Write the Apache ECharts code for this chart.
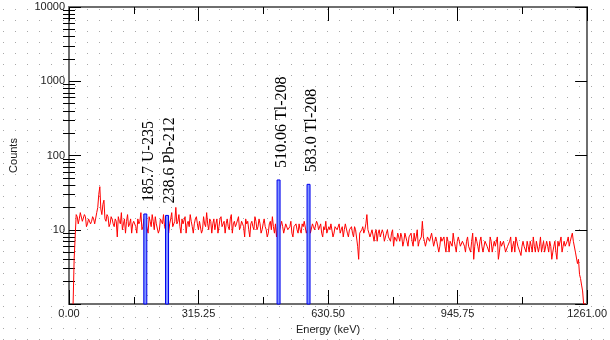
<!DOCTYPE html>
<html>
<head>
<meta charset="utf-8">
<script src="https://cdn.jsdelivr.net/npm/echarts@6/dist/echarts.min.js"></script>
<style>
html,body{margin:0;padding:0;background:#fff;}
body{background-image:url("data:image/svg+xml;utf8,<svg xmlns='http://www.w3.org/2000/svg' width='12' height='11'><rect x='3' y='9' width='1' height='1' fill='%23a8a8a8'/></svg>");}
#chart{width:610px;height:340px;}
</style>
</head>
<body>
<div id="chart"></div>
<script>
// Spectrum channels: first channel energy and channel width (keV)
const energyStart = 10;
const channelWidth = 2.5;
// Counts per channel
const counts = [
  1, 4, 4, 16, 15, 12, 14, 17, 17, 13, 13, 16, 15, 11, 12, 14, 14, 12, 13, 15,
  14, 12, 12, 17, 20, 30, 38, 19, 16, 22, 25, 14, 13, 16, 15, 11, 12, 15, 14, 12,
  11, 14, 13, 8, 15, 13, 12, 17, 10, 12, 14, 9, 13, 16, 11, 12, 14, 9, 12, 13,
  13, 11, 9, 14, 12, 13, 17, 10, 11, 14, 13, 12, 12, 9, 15, 13, 11, 16, 13, 10,
  15, 12, 12, 9, 10, 14, 13, 12, 16, 11, 10, 13, 14, 9, 12, 14, 17, 11, 12, 13,
  20, 12, 13, 16, 11, 9, 14, 12, 12, 15, 9, 12, 13, 11, 16, 13, 11, 9, 12, 14,
  15, 12, 10, 13, 13, 9, 10, 15, 12, 11, 17, 12, 10, 14, 13, 9, 12, 14, 10, 12,
  14, 9, 11, 14, 15, 11, 12, 13, 9, 12, 14, 11, 10, 14, 16, 9, 12, 13, 11, 12,
  12, 15, 10, 11, 13, 12, 11, 8, 14, 12, 13, 10, 8, 12, 13, 11, 10, 15, 13, 10,
  11, 14, 12, 9, 10, 12, 14, 11, 10, 8, 9, 12, 13, 10, 15, 11, 9, 12, 8, 11,
  12, 10, 10, 13, 11, 9, 9, 12, 12, 10, 10, 11, 13, 9, 8, 11, 11, 12, 10, 9,
  12, 10, 9, 12, 11, 13, 13, 9, 10, 11, 12, 9, 9, 12, 11, 10, 10, 13, 12, 10,
  10, 12, 9, 8, 11, 10, 13, 9, 9, 11, 10, 12, 12, 8, 9, 11, 11, 10, 10, 12,
  9, 10, 11, 8, 10, 12, 12, 9, 8, 10, 10, 11, 9, 8, 11, 10, 10, 6, 4, 9,
  9, 10, 11, 9, 10, 12, 16, 10, 9, 8, 8, 10, 10, 7, 9, 10, 7, 9, 10, 8,
  8, 10, 9, 7, 7, 9, 10, 8, 8, 7, 9, 10, 6, 8, 8, 7, 9, 8, 7, 9,
  8, 6, 7, 9, 9, 7, 6, 8, 8, 9, 7, 6, 9, 7, 8, 10, 6, 7, 7, 8,
  13, 8, 7, 6, 6, 8, 8, 7, 7, 9, 9, 6, 6, 8, 7, 7, 5, 6, 8, 7,
  7, 8, 6, 5, 8, 7, 5, 7, 7, 6, 9, 7, 6, 5, 7, 8, 8, 6, 6, 7,
  7, 6, 5, 7, 8, 6, 6, 5, 7, 9, 4, 6, 8, 7, 6, 5, 7, 8, 6, 5,
  5, 7, 7, 6, 6, 5, 8, 7, 5, 6, 7, 6, 6, 8, 4, 5, 7, 6, 6, 7,
  7, 5, 5, 6, 6, 7, 8, 5, 6, 7, 5, 8, 7, 6, 6, 5, 4.5, 6, 7, 6,
  6, 5, 7, 6, 5, 7, 6, 5, 8, 6, 5, 7, 7, 5, 6, 8, 5, 6, 7, 5,
  5, 7, 6, 5, 7, 6, 4, 5, 6, 7, 5, 4, 7, 6, 6, 8, 5, 6, 7, 6,
  6, 7, 8, 6, 7, 8, 9, 7, 7, 5, 5, 3.5, 4, 2.5, 2.2, 1.8, 1.5, 1, 1, 1
];
// Identified peaks
const peakEnergies = [185.7, 238.6, 510.06, 583.0];
const peakCounts = [16.3, 15.6, 46.8, 40.9];
const peakLabels = ['185.7 U-235', '238.6 Pb-212', '510.06 Tl-208', '583.0 Tl-208'];
// Axis ticks
const xMin = 0, xMax = 1261, xStep = 315.25;
const yMin = 1, yMax = 10000;
const yMinorTicks = [2,3,4,5,6,7,8,9,20,30,40,50,60,70,80,90,200,300,400,500,600,700,800,900,2000,3000,4000,5000,6000,7000,8000,9000];

const spectrum = counts.map((c, i) => [energyStart + i * channelWidth, c]);
const peaks = peakEnergies.map((e, i) => [e, peakCounts[i], i]);

const chart = echarts.init(document.getElementById('chart'), null, {renderer: 'canvas'});
const axisLineStyle = {color: '#6e6e6e', width: 2};
const tickStyle = {color: '#000', width: 1};
const labelFont = {fontFamily: '"Liberation Sans", Arial, sans-serif', fontSize: 11, color: '#222'};

function xAx(pos, showLabels) {
  return {
    type: 'value', position: pos, min: xMin, max: xMax, interval: xStep,
    axisLine: {show: true, onZero: false, lineStyle: axisLineStyle},
    axisTick: {show: true, inside: true, length: 14, lineStyle: tickStyle},
    minorTick: {show: true, splitNumber: 2, length: 7, lineStyle: tickStyle},
    splitLine: {show: false}, minorSplitLine: {show: false},
    axisLabel: Object.assign({show: showLabels, margin: 4, formatter: v => v.toFixed(2), showMinLabel: true, showMaxLabel: true}, labelFont),
    name: showLabels ? 'Energy (keV)' : '', nameLocation: 'middle', nameGap: 20,
    nameTextStyle: labelFont
  };
}
function yMajor(pos, showLabels) {
  const a = {
    type: 'log', logBase: 10, position: pos, min: yMin, max: yMax,
    axisLine: {show: true, onZero: false, lineStyle: axisLineStyle},
    axisTick: {show: true, inside: true, length: 12, lineStyle: tickStyle},
    splitLine: {show: false},
    axisLabel: Object.assign({show: showLabels, margin: 4, formatter: v => v < 2 ? '' : String(Math.round(v))}, labelFont)
  };
  if (showLabels) {
    a.name = 'Counts'; a.nameLocation = 'middle'; a.nameGap = 50;
    a.nameTextStyle = labelFont;
  }
  return a;
}
// helper axes carrying the 2..9 minor ticks of each decade (in log10 units)
function yMinor(pos) {
  return {
    type: 'value', position: pos, min: Math.log10(yMin), max: Math.log10(yMax),
    axisLine: {show: false},
    axisTick: {show: true, inside: true, length: 6, lineStyle: tickStyle,
               customValues: yMinorTicks.map(v => Math.log10(v))},
    axisLabel: {show: false}, splitLine: {show: false}
  };
}

chart.setOption({
  animation: false,
  grid: {left: 67, right: 20, top: 7, bottom: 32, containLabel: false},
  xAxis: [xAx('bottom', true), xAx('top', false)],
  yAxis: [yMajor('left', true), yMinor('left'), yMajor('right', false), yMinor('right')],
  series: [
    {
      type: 'line', data: spectrum, xAxisIndex: 0, yAxisIndex: 0,
      showSymbol: false, symbol: 'none', clip: true,
      lineStyle: {color: '#ff0000', width: 1}, z: 2
    },
    {
      type: 'custom', data: peaks, xAxisIndex: 0, yAxisIndex: 0, z: 3, clip: false,
      renderItem: function (params, api) {
        const top = api.coord([api.value(0), api.value(1)]);
        const base = api.coord([api.value(0), yMin]);
        const idx = api.value(2);
        return {
          type: 'group',
          children: [
            {
              type: 'rect',
              shape: {x: top[0] - 1.5, y: top[1], width: 3, height: base[1] - top[1]},
              style: {fill: '#7f94ff', stroke: '#0000ee', lineWidth: 1}
            },
            {
              type: 'text',
              x: top[0] + 3, y: top[1] - 12, rotation: Math.PI / 2,
              style: {
                text: peakLabels[idx], fill: '#000',
                font: '16px "Liberation Serif", "Times New Roman", serif',
                align: 'left', verticalAlign: 'middle'
              }
            }
          ]
        };
      }
    }
  ]
});
</script>
</body>
</html>
